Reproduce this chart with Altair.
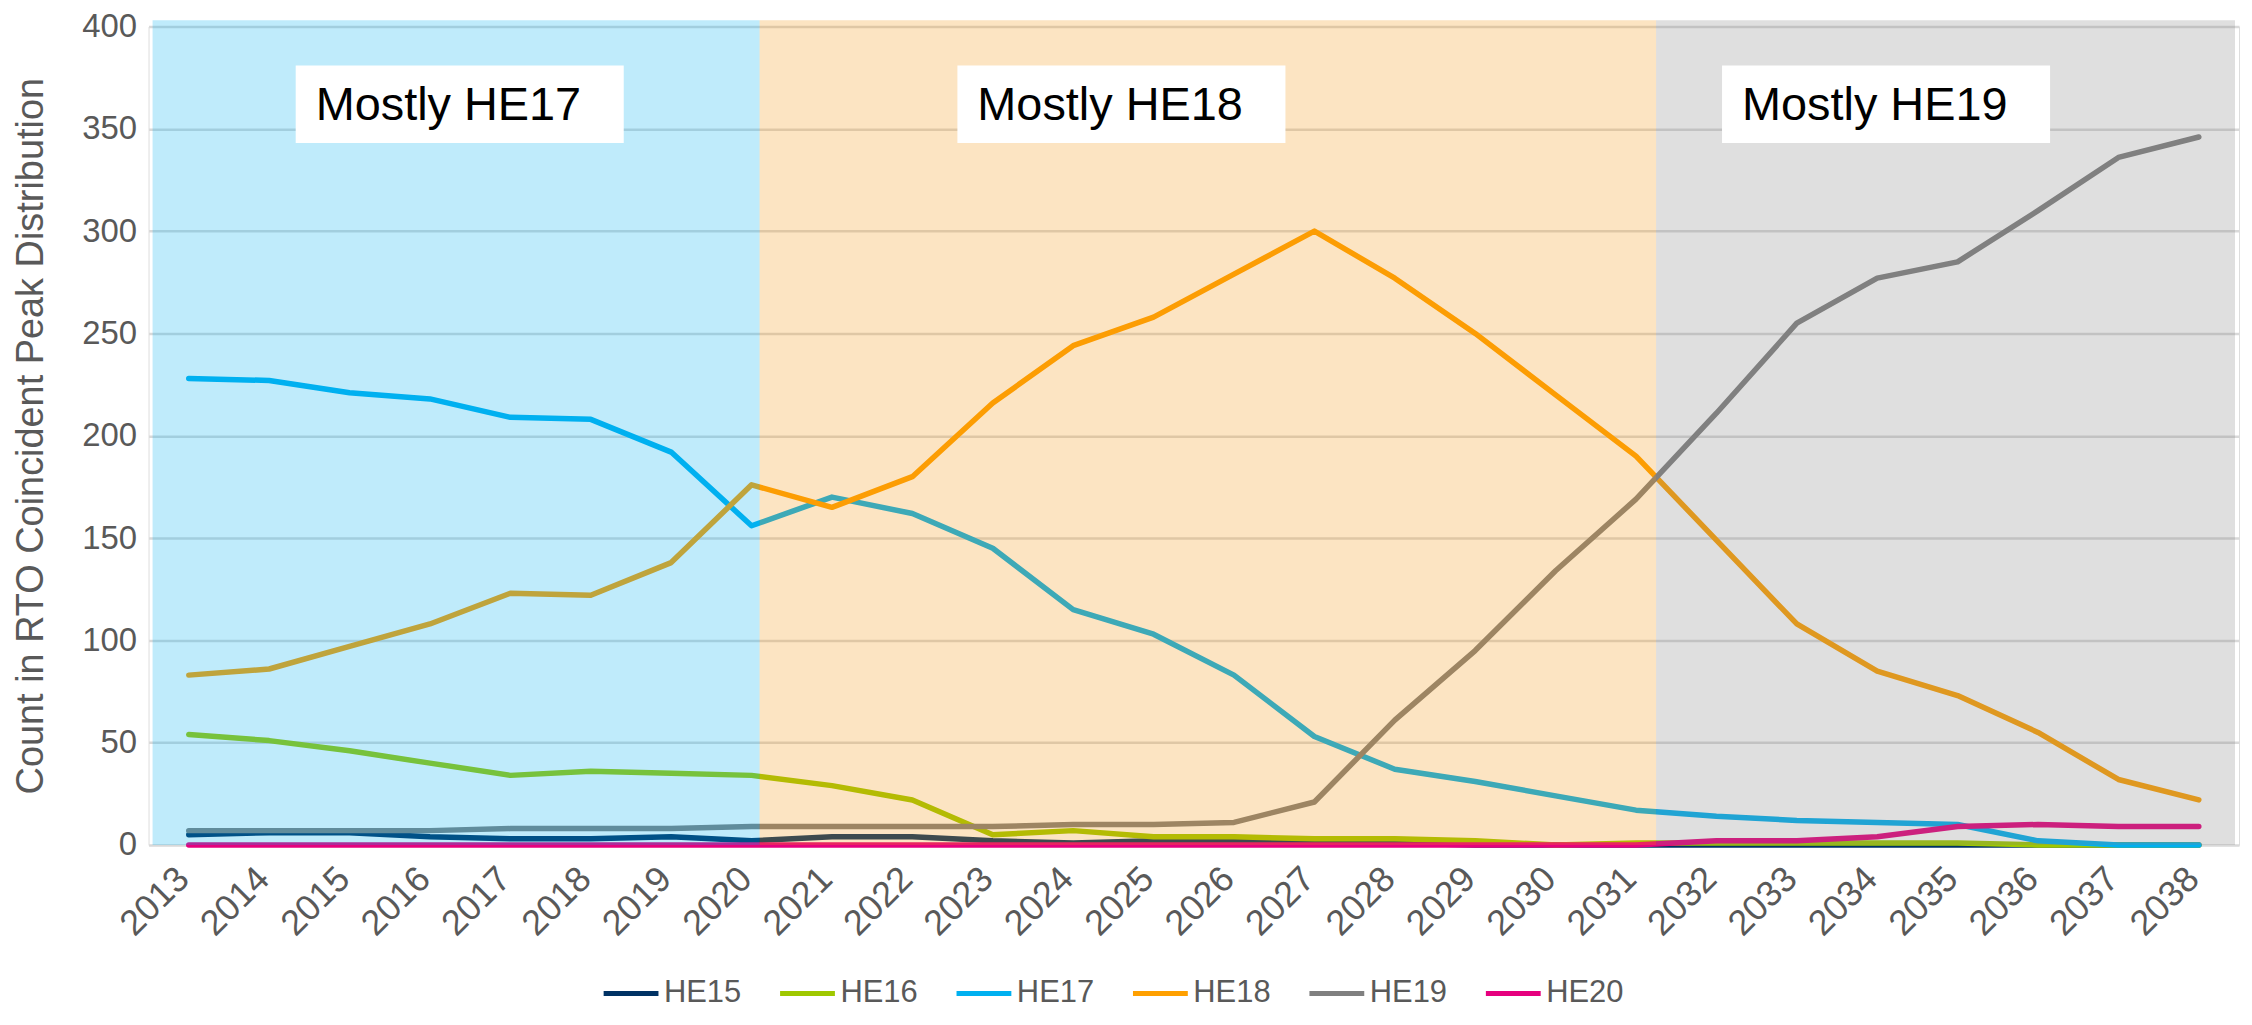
import altair as alt
import pandas as pd

years = list(range(2013, 2039))
series = ["HE15", "HE16", "HE17", "HE18", "HE19", "HE20"]
colors = ["#003264", "#9FC800", "#00B0F0", "#FFA000", "#808080", "#E6007E"]

he15 = [5, 6, 6, 4, 3, 3, 4, 2, 4, 4, 2, 1, 2, 2, 1, 1, 0, 0, 0, 0, 0, 0, 0, 0, 0, 0]
he16 = [54, 51, 46, 40, 34, 36, 35, 34, 29, 22, 5, 7, 4, 4, 3, 3, 2, 0, 1, 1, 1, 1, 1, 0, 0, 0]
he17 = [228, 227, 221, 218, 209, 208, 192, 156, 170, 162, 145, 115, 103, 83, 53, 37, 31, 24, 17, 14, 12, 11, 10, 2, 0, 0]
he18 = [83, 86, 97, 108, 123, 122, 138, 176, 165, 180, 216, 244, 258, 279, 300, 277, 250, 220, 190, 149, 108, 85, 73, 55, 32, 22]
he19 = [7, 7, 7, 7, 8, 8, 8, 9, 9, 9, 9, 10, 10, 11, 21, 61, 95, 134, 169, 211, 255, 277, 285, 310, 336, 346]
he20 = [0, 0, 0, 0, 0, 0, 0, 0, 0, 0, 0, 0, 0, 0, 0, 0, 0, 0, 0, 2, 2, 4, 9, 10, 9, 9]

# shaded eras (year boundaries)
era_names = ["HE17 era", "HE18 era", "HE19 era"]
era_start = [2012.55, 2020.1, 2031.25]
era_end = [2020.1, 2031.25, 2038.45]
era_fill = ["#00B0F0", "#F3930B", "#7F7F7F"]

# annotation boxes
box_text = ["Mostly HE17", "Mostly HE18", "Mostly HE19"]
box_start = [2014.33, 2022.56, 2032.07]
box_end = [2018.41, 2026.64, 2036.15]
box_low = 343.1
box_high = 381.0
text_base = 354.1

values = [he15, he16, he17, he18, he19, he20]
rows = []
for name, vals in zip(series, values):
    for y, v in zip(years, vals):
        rows.append({"year": y, "series": name, "value": v})
df = pd.DataFrame(rows)

eras = pd.DataFrame({"era": era_names, "x0": era_start, "x1": era_end,
                     "fill": era_fill, "y0": [0] * 3, "y1": [403] * 3})
boxes = pd.DataFrame({"text": box_text, "x0": box_start, "x1": box_end,
                      "y0": [box_low] * 3, "y1": [box_high] * 3,
                      "ty": [text_base] * 3})

FONT = "Liberation Sans"
GREY = "#595959"

xscale = alt.Scale(domain=[2012.5, 2038.5], nice=False, zero=False)
yscale = alt.Scale(domain=[0, 400], nice=False)

lines = alt.Chart(df).mark_line(strokeWidth=5.5, strokeCap="round", strokeJoin="round").encode(
    x=alt.X("year:Q", scale=xscale, title=None,
            axis=alt.Axis(values=years, format="d", labelAngle=-45, labelAlign="right",
                          labelBaseline="middle", labelFontSize=36, labelColor=GREY,
                          labelFont=FONT, labelPadding=28, labelOffset=-6, domain=False, ticks=False,
                          grid=False, labelOverlap=False, labelFlush=False)),
    y=alt.Y("value:Q", scale=yscale,
            axis=alt.Axis(values=list(range(0, 401, 50)), title="Count in RTO Coincident Peak Distribution",
                          labelFontSize=33, labelColor=GREY, labelFont=FONT, labelPadding=12,
                          domain=False, ticks=False, grid=True, gridColor="#D9D9D9", gridWidth=2.5,
                          titleFont=FONT, titleFontSize=38, titleColor=GREY, titleFontWeight="normal",
                          titleX=-117, titleY=410.5, titleAlign="center", titleBaseline="middle")),
    color=alt.Color("series:N", scale=alt.Scale(domain=series, range=colors),
                    legend=alt.Legend(title=None, orient="none", direction="horizontal",
                                      legendX=454, legendY=940, symbolType="stroke",
                                      symbolSize=3025, symbolStrokeWidth=5,
                                      labelFontSize=31, labelColor=GREY, labelFont=FONT,
                                      labelOffset=3, columnPadding=28)),
    order=alt.Order("series:N"),
)

shade = alt.Chart(eras).mark_rect(opacity=0.25, clip=False).encode(
    x=alt.X("x0:Q", scale=xscale),
    x2="x1:Q",
    y=alt.Y("y0:Q", scale=yscale),
    y2="y1:Q",
    fill=alt.Fill("fill:N", scale=None),
)

box = alt.Chart(boxes).mark_rect(fill="white").encode(
    x=alt.X("x0:Q", scale=xscale), x2="x1:Q",
    y=alt.Y("y0:Q", scale=yscale), y2="y1:Q",
)

label = alt.Chart(boxes).mark_text(font=FONT, fontSize=47, color="black", align="left",
                                   baseline="alphabetic", dx=20).encode(
    x=alt.X("x0:Q", scale=xscale),
    y=alt.Y("ty:Q", scale=yscale),
    text="text:N",
)

chart = alt.layer(lines, shade, box, label).properties(
    width=2097, height=821,
    autosize=alt.AutoSizeParams(type="none"),
    padding={"left": 141, "top": 17, "right": 5, "bottom": 165},
).configure_view(stroke=None).configure(background="white")

chart.save("out.html", embed_options={"renderer": "svg", "actions": False})
